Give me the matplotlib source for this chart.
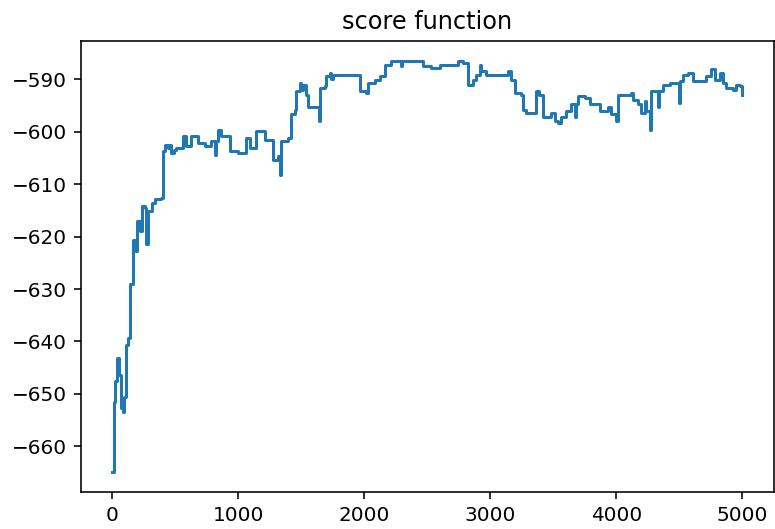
import matplotlib
matplotlib.use("Agg")
import matplotlib.pyplot as plt

# iteration at which the score changes, and the score from that iteration on
iterations = [0, 12, 18, 32, 55, 70, 80, 95, 105, 124, 137, 143, 163, 180, 195, 217,
              238, 255, 270, 283, 310, 336, 389, 402, 415, 441, 455, 468, 490, 508,
              560, 587, 627, 680, 733, 786, 812, 820, 838, 865, 931, 997, 1063,
              1090, 1143, 1209, 1275, 1314, 1328, 1341, 1394, 1421, 1447, 1460,
              1487, 1500, 1513, 1540, 1552, 1640, 1645, 1685, 1698, 1725, 1735,
              1751, 1963, 2016, 2029, 2082, 2121, 2161, 2214, 2294, 2302, 2465,
              2532, 2598, 2743, 2783, 2822, 2862, 2889, 2915, 2925, 2968, 3140,
              3167, 3193, 3246, 3259, 3286, 3359, 3386, 3417, 3484, 3510, 3537,
              3563, 3603, 3643, 3669, 3680, 3695, 3748, 3788, 3868, 3933, 3960,
              4000, 4013, 4119, 4132, 4171, 4198, 4225, 4238, 4264, 4278, 4330,
              4340, 4370, 4423, 4497, 4505, 4529, 4568, 4608, 4714, 4754, 4780,
              4820, 4846, 4873, 4925, 4952, 4979, 4995, 4999]
scores = [-664.8, -651.5, -647.6, -643.2, -646.3, -652.7, -653.4, -650.5, -640.6,
          -639.4, -638.4, -629.1, -620.6, -622.8, -617.0, -619.0, -614.2, -614.6,
          -621.5, -615.2, -613.6, -612.9, -612.6, -603.7, -602.5, -603.1, -602.6,
          -604.0, -603.4, -603.1, -600.9, -602.8, -600.9, -602.1, -602.8, -601.8,
          -604.4, -601.8, -599.6, -600.9, -603.7, -604.0, -601.2, -603.1, -599.9,
          -601.5, -605.3, -604.7, -608.2, -601.8, -601.2, -596.7, -595.8, -592.3,
          -590.7, -592.0, -591.0, -593.0, -595.2, -598.0, -591.7, -591.3, -589.4,
          -588.8, -590.0, -589.1, -592.3, -592.6, -590.7, -590.1, -589.4, -587.2,
          -586.6, -587.5, -586.6, -587.5, -587.8, -587.2, -586.6, -586.9, -591.0,
          -590.1, -589.1, -587.2, -588.5, -589.1, -588.5, -590.1, -592.6, -592.9,
          -595.8, -596.4, -592.3, -592.9, -597.1, -596.4, -598.0, -598.3, -597.1,
          -596.1, -594.8, -597.1, -594.8, -593.2, -593.6, -594.8, -596.1, -595.2,
          -596.7, -598.0, -592.9, -592.6, -593.9, -594.8, -596.4, -594.2, -596.1,
          -599.6, -592.3, -595.2, -592.3, -591.0, -590.7, -594.5, -590.4, -589.1,
          -588.8, -590.4, -589.4, -588.1, -590.1, -588.8, -590.7, -591.7, -592.0,
          -591.0, -591.3, -592.9, -592.9]

xticks = [0, 1000, 2000, 3000, 4000, 5000]
yticks = [-660, -650, -640, -630, -620, -610, -600, -590]
title = "score function"

dpi = 144
fig = plt.figure(figsize=(775 / dpi, 529 / dpi), dpi=dpi)
ax = fig.add_axes([81 / 775, 1 - 492 / 529, (773.6 - 81) / 775, (492 - 41) / 529])
ax.plot(iterations, scores, drawstyle="steps-post", color="#1f77b4", linewidth=1.5)
ax.set_xticks(xticks)
ax.set_yticks(yticks)
ax.set_title(title)
fig.savefig("out.png", dpi=dpi)
